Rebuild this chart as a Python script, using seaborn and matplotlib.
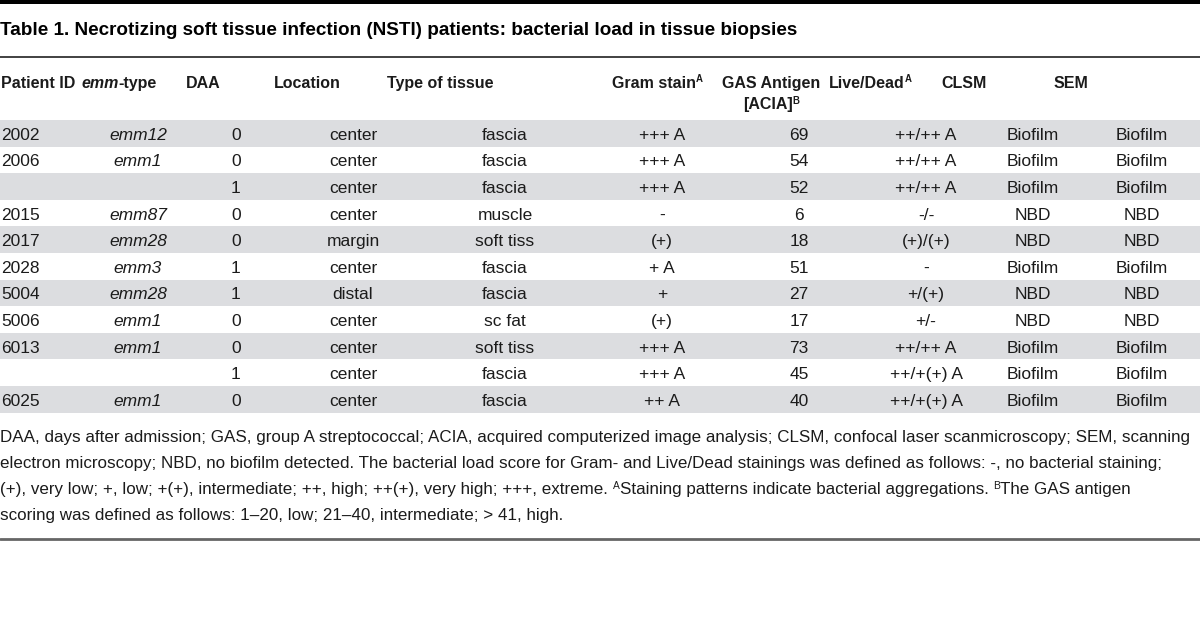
import matplotlib
matplotlib.use("Agg")
import matplotlib.pyplot as plt
import pandas as pd
import seaborn as sns
from matplotlib import font_manager

# ---------------------------------------------------------------
# Table data
# ---------------------------------------------------------------
patient_id = ["2002", "2006", "", "2015", "2017", "2028", "5004", "5006", "6013", "", "6025"]
emm_type   = ["emm12", "emm1", "", "emm87", "emm28", "emm3", "emm28", "emm1", "emm1", "", "emm1"]
daa        = ["0", "0", "1", "0", "0", "1", "1", "0", "0", "1", "0"]
location   = ["center", "center", "center", "center", "margin", "center", "distal",
              "center", "center", "center", "center"]
tissue     = ["fascia", "fascia", "fascia", "muscle", "soft tiss", "fascia", "fascia",
              "sc fat", "soft tiss", "fascia", "fascia"]
gram_stain = ["+++ A", "+++ A", "+++ A", "-", "(+)", "+ A", "+", "(+)", "+++ A", "+++ A", "++ A"]
gas_antigen = [69, 54, 52, 6, 18, 51, 27, 17, 73, 45, 40]
live_dead  = ["++/++ A", "++/++ A", "++/++ A", "-/-", "(+)/(+)", "-", "+/(+)", "+/-",
              "++/++ A", "++/+(+) A", "++/+(+) A"]
clsm       = ["Biofilm", "Biofilm", "Biofilm", "NBD", "NBD", "Biofilm", "NBD", "NBD",
              "Biofilm", "Biofilm", "Biofilm"]
sem        = ["Biofilm", "Biofilm", "Biofilm", "NBD", "NBD", "Biofilm", "NBD", "NBD",
              "Biofilm", "Biofilm", "Biofilm"]

title = "Table 1. Necrotizing soft tissue infection (NSTI) patients: bacterial load in tissue biopsies"

# header: list of runs (text, is_italic, is_superscript) per line
headers = [
    [[("Patient ID", False, False)]],
    [[("emm", True, False), ("-type", False, False)]],
    [[("DAA", False, False)]],
    [[("Location", False, False)]],
    [[("Type of tissue", False, False)]],
    [[("Gram stain", False, False), ("A", False, True)]],
    [[("GAS Antigen", False, False)], [("[ACIA]", False, False), ("B", False, True)]],
    [[("Live/Dead", False, False), ("A", False, True)]],
    [[("CLSM", False, False)]],
    [[("SEM", False, False)]],
]

footnotes = [
    [("DAA, days after admission; GAS, group A streptococcal; ACIA, acquired computerized "
      "image analysis; CLSM, confocal laser scanmicroscopy; SEM, scanning", False)],
    [("electron microscopy; NBD, no biofilm detected. The bacterial load score for Gram- and "
      "Live/Dead stainings was defined as follows: -, no bacterial staining;", False)],
    [("(+), very low; +, low; +(+), intermediate; ++, high; ++(+), very high; +++, extreme. ", False),
     ("A", True), ("Staining patterns indicate bacterial aggregations. ", False),
     ("B", True), ("The GAS antigen", False)],
    [("scoring was defined as follows: 1\u201320, low; 21\u201340, intermediate; > 41, high.", False)],
]

# ---------------------------------------------------------------
# Layout (pixel units)
# ---------------------------------------------------------------
W, H = 1200, 625
data_x   = [1, 138, 236, 353, 505, 662, 799, 926, 1033, 1142]
header_x = [1, 119, 203, 307, 440, 657, 771, 870, 964, 1071]
ROW_TOP, ROW_H = 120, 26.6
TEXT = "#1b1b1b"
STRIPE = "#dcdde0"

sns.set_theme(style="white")
names = {f.name for f in font_manager.fontManager.ttflist}
FONT = next(n for n in ["Liberation Sans", "Roboto", "DejaVu Sans"] if n in names)
plt.rcParams["font.family"] = [FONT, "DejaVu Sans"]

df = pd.DataFrame({
    "Patient ID": patient_id, "emm": emm_type, "DAA": daa, "Location": location,
    "Tissue": tissue, "Gram": gram_stain, "GAS": [str(v) for v in gas_antigen],
    "LiveDead": live_dead, "CLSM": clsm, "SEM": sem,
})

fig = plt.figure(figsize=(W / 100, H / 100), dpi=100)
ax = fig.add_axes([0, 0, 1, 1])
ax.set_xlim(0, W)
ax.set_ylim(H, 0)
ax.axis("off")
renderer = fig.canvas.get_renderer()


def text_width(s, **kw):
    # measure with a bar appended so trailing spaces count
    t1 = ax.text(0, 0, s + "|", **kw)
    t2 = ax.text(0, 0, "|", **kw)
    w = t1.get_window_extent(renderer).width - t2.get_window_extent(renderer).width
    t1.remove(); t2.remove()
    return w


def draw_runs(x, y, runs, ha="left"):
    # runs: list of (text, kwargs, dy)
    widths = [text_width(s, **kw) for s, kw, dy in runs]
    start = x - sum(widths) / 2 if ha == "center" else x
    for (s, kw, dy), w in zip(runs, widths):
        ax.text(start, y + dy, s, va="baseline", ha="left", **kw)
        start += w


# top black rule, title, rule under title
ax.axhspan(0, 4, color="black", lw=0)
title_size = 12
title_size *= 790 / text_width(title, fontsize=title_size, weight="bold")
ax.text(0, 35, title, fontsize=title_size, weight="bold", color="black", va="baseline")
ax.axhline(57, color="#333333", lw=1.3)

# header row
HEAD_SIZE = 11.5
for hx, lines in zip(header_x, headers):
    for li, line in enumerate(lines):
        runs = []
        for s, ital, sup in line:
            kw = dict(fontsize=HEAD_SIZE * (0.6 if sup else 1), weight="bold",
                      style="italic" if ital else "normal", color=TEXT)
            runs.append((s, kw, -5.5 if sup else 0))
        draw_runs(hx, 88 + li * 21, runs, ha="left" if hx == header_x[0] else "center")

# stripes + body cells
BODY_SIZE = 12.5
for i in range(len(df)):
    y0 = ROW_TOP + i * ROW_H
    if i % 2 == 0:
        ax.axhspan(y0, y0 + ROW_H, color=STRIPE, lw=0)
    base = y0 + ROW_H / 2 + 6.5
    for j, col in enumerate(df.columns):
        val = df.iloc[i, j]
        if not val:
            continue
        ax.text(data_x[j], base, val, fontsize=BODY_SIZE, color=TEXT, va="baseline",
                ha="left" if j == 0 else "center",
                style="italic" if col == "emm" else "normal")

# footnotes (size fitted so the first line fills the width)
foot_size = 11
foot_size *= 1186 / text_width(footnotes[0][0][0], fontsize=foot_size)
for li, line in enumerate(footnotes):
    runs = []
    for s, sup in line:
        kw = dict(fontsize=foot_size * (0.6 if sup else 1), color=TEXT)
        runs.append((s, kw, -5 if sup else 0))
    draw_runs(0, 442 + li * 26, runs)

ax.axhline(539, color="#666666", lw=2)

fig.savefig("out.png", dpi=100)
